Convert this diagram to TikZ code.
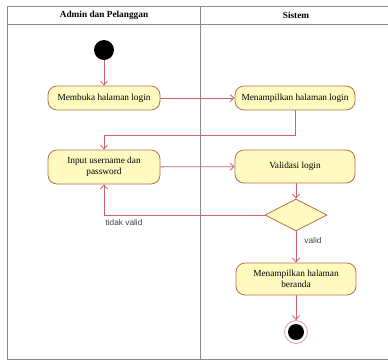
\documentclass[tikz,border=0pt]{standalone}
\usepackage{fontspec}
\setmainfont{Liberation Serif}
\newfontfamily\labfont{Liberation Sans}
\usepackage{xcolor}
\usetikzlibrary{calc,arrows.meta,shapes.geometric}
\definecolor{lane}{HTML}{8A8A8A}
\definecolor{actfill}{HTML}{FFFBC0}
\definecolor{actline}{HTML}{B86E4E}
\definecolor{flowc}{HTML}{C8646A}
\tikzset{
  lanebox/.style={draw=lane, line width=1pt},
  act/.style={draw=actline, fill=actfill, line width=0.8pt, rounded corners=9pt,
    align=center, inner sep=1pt, font=\fontsize{9.3}{10.5}\selectfont},
  head/.style={font=\fontsize{9.3}{11}\selectfont\bfseries},
  flow/.style={draw=flowc, line width=0.8pt, -{Straight Barb[length=4pt,width=7pt]}},
  dec/.style={diamond, aspect=1.95, draw=actline, fill=actfill, line width=0.8pt,
    inner sep=0pt, minimum width=62pt, minimum height=32pt},
  startdot/.style={circle, fill=black, inner sep=0pt, minimum size=20pt},
  endring/.style={circle, draw=flowc!60, fill=white, line width=0.8pt, inner sep=0pt, minimum size=23pt},
  enddot/.style={circle, fill=black, inner sep=0pt, minimum size=16pt},
  lab/.style={font=\labfont\fontsize{8.3}{10}\selectfont, text=black!75},
}
\begin{document}
\begin{tikzpicture}[x=1pt,y=-1pt]
  \useasboundingbox (0,0) rectangle (388,360);
  % swimlanes
  \draw[lanebox] (7,6) rectangle (395,359);
  \draw[lanebox] (7,24) -- (395,24);
  \draw[lanebox] (200,6) -- (200,359);
  \node[head] (laneA) at (104,15) {Admin dan Pelanggan};
  \node[head] (laneB) at (296,15) {Sistem};

  % activities
  \node[startdot] (start) at (104,50) {};
  \node[act, minimum width=112pt, minimum height=24pt] (login) at (104,98) {Membuka halaman login};
  \node[act, minimum width=120pt, minimum height=24pt] (showlogin) at (295,98) {Menampilkan halaman login};
  \node[act, minimum width=112pt, minimum height=34pt] (input) at (104,167) {Input username dan\\password};
  \node[act, minimum width=120pt, minimum height=33pt] (validasi) at (295,166.5) {Validasi login};
  \node[dec] (cek) at (296,215) {};
  \node[act, minimum width=120pt, minimum height=32pt] (beranda) at (296,279) {Menampilkan halaman\\beranda};
  \node[endring] (end) at (296,332) {};
  \node[enddot] (enddot) at (end) {};

  % flows
  \draw[flow] (start) -- (login);
  \draw[flow] (login) -- (showlogin);
  \draw[flow] (showlogin.south) -- ++(0,25) -| (input.north);
  \draw[flow] (input) -- (validasi);
  \draw[flow] (validasi.south -| cek.north) -- (cek.north);
  \draw[flow] (cek.west) -| (input.south);
  \node[lab] (tv) at (124,223) {tidak valid};
  \draw[flow] (cek.south) -- (beranda.north);
  \node[lab] (v) at (313,241) {valid};
  \draw[flow] (beranda) -- (end);
\end{tikzpicture}
\end{document}
